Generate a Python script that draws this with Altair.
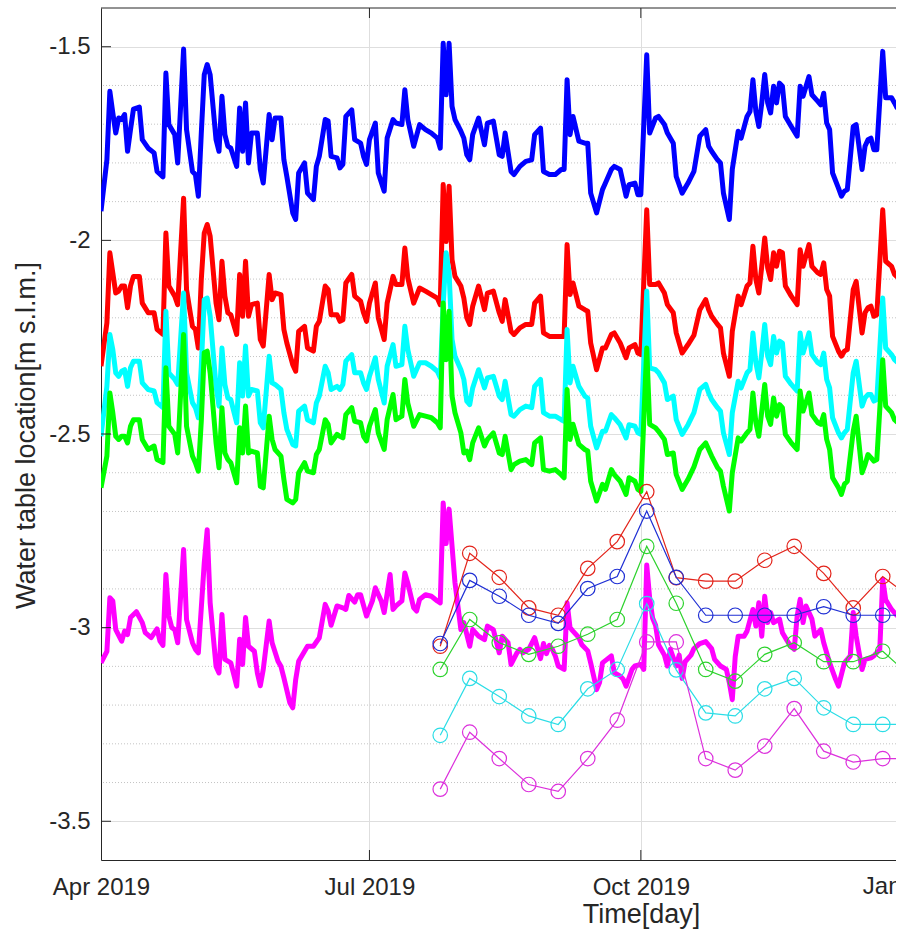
import altair as alt
import pandas as pd

# ---------------- data ----------------
START = pd.Timestamp("2019-04-01")

# day offsets from 1 Apr 2019 shared by the four upper simulated series
upper_days = [
    0, 2, 3, 4, 5, 6, 7, 8, 9, 10,
    11, 13, 14, 16, 18, 19, 21, 22, 23, 25,
    26, 28, 29, 31, 32, 33, 34, 35, 36, 37,
    39, 40, 41, 42, 43, 44, 46, 47, 48, 49,
    50, 51, 53, 54, 55, 57, 58, 59, 61, 62,
    63, 65, 66, 67, 69, 70, 72, 73, 74, 76,
    77, 78, 80, 81, 82, 83, 85, 86, 88, 89,
    90, 91, 93, 94, 96, 97, 99, 100, 102, 103,
    104, 106, 108, 110, 112, 114, 115, 116, 117, 118,
    119, 120, 122, 123, 124, 125, 126, 128, 130, 131,
    133, 135, 136, 137, 139, 140, 142, 144, 146, 147,
    149, 150, 152, 154, 156, 157, 158, 159, 160, 162,
    164, 165, 166, 168, 170, 171, 173, 174, 176, 178,
    179, 181, 182, 183, 185, 186, 188, 189, 191, 192,
    194, 195, 197, 199, 201, 203, 205, 206, 207, 209,
    210, 211, 213, 214, 216, 217, 219, 220, 221, 222,
    223, 224, 225, 226, 227, 228, 229, 230, 231, 232,
    234, 236, 237, 238, 240, 241, 243, 244, 245, 246,
    247, 248, 250, 251, 252, 253, 255, 256, 258, 259,
    260, 261, 262, 263, 265, 266, 268, 269, 270,
]

blue_vals = [
    -1.925, -1.792, -1.615, -1.671, -1.723, -1.684, -1.688, -1.675, -1.770, -1.714,
    -1.661, -1.656, -1.740, -1.762, -1.774, -1.822, -1.836, -1.568, -1.701, -1.727,
    -1.800, -1.506, -1.714, -1.822, -1.830, -1.886, -1.723, -1.572, -1.546, -1.572,
    -1.740, -1.770, -1.628, -1.727, -1.757, -1.762, -1.809, -1.658, -1.770, -1.645,
    -1.800, -1.723, -1.723, -1.817, -1.852, -1.675, -1.740, -1.684, -1.684, -1.792,
    -1.835, -1.929, -1.946, -1.826, -1.800, -1.878, -1.895, -1.809, -1.783, -1.688,
    -1.692, -1.783, -1.787, -1.813, -1.804, -1.680, -1.663, -1.740, -1.749, -1.783,
    -1.804, -1.740, -1.697, -1.826, -1.873, -1.736, -1.688, -1.697, -1.701, -1.611,
    -1.688, -1.757, -1.701, -1.714, -1.723, -1.736, -1.762, -1.491, -1.624, -1.491,
    -1.654, -1.688, -1.718, -1.736, -1.779, -1.792, -1.727, -1.684, -1.753, -1.697,
    -1.692, -1.779, -1.783, -1.723, -1.822, -1.830, -1.809, -1.796, -1.792, -1.727,
    -1.710, -1.822, -1.830, -1.830, -1.817, -1.817, -1.585, -1.727, -1.680, -1.744,
    -1.749, -1.749, -1.878, -1.929, -1.869, -1.852, -1.817, -1.809, -1.817, -1.886,
    -1.856, -1.852, -1.882, -1.882, -1.521, -1.723, -1.684, -1.680, -1.701, -1.723,
    -1.749, -1.835, -1.878, -1.852, -1.822, -1.731, -1.714, -1.757, -1.770, -1.792,
    -1.800, -1.878, -1.946, -1.817, -1.718, -1.736, -1.680, -1.667, -1.585, -1.667,
    -1.706, -1.645, -1.572, -1.645, -1.671, -1.602, -1.645, -1.594, -1.602, -1.680,
    -1.706, -1.731, -1.602, -1.628, -1.577, -1.624, -1.641, -1.650, -1.620, -1.697,
    -1.714, -1.826, -1.865, -1.886, -1.873, -1.869, -1.706, -1.701, -1.817, -1.757,
    -1.740, -1.736, -1.766, -1.766, -1.512, -1.632, -1.632, -1.645, -1.660,
]

red_vals = [
    -2.325, -2.213, -2.032, -2.084, -2.136, -2.131, -2.118, -2.118, -2.174, -2.118,
    -2.093, -2.093, -2.162, -2.187, -2.187, -2.230, -2.243, -1.981, -2.118, -2.144,
    -2.166, -1.891, -2.127, -2.222, -2.230, -2.278, -2.101, -1.981, -1.959, -1.989,
    -2.162, -2.205, -2.054, -2.144, -2.187, -2.192, -2.243, -2.088, -2.196, -2.054,
    -2.196, -2.166, -2.162, -2.256, -2.273, -2.088, -2.153, -2.136, -2.140, -2.230,
    -2.265, -2.321, -2.338, -2.235, -2.222, -2.278, -2.286, -2.222, -2.209, -2.118,
    -2.127, -2.192, -2.192, -2.209, -2.205, -2.110, -2.088, -2.144, -2.157, -2.187,
    -2.209, -2.162, -2.110, -2.200, -2.256, -2.162, -2.093, -2.114, -2.114, -2.020,
    -2.097, -2.162, -2.123, -2.131, -2.140, -2.149, -2.166, -1.856, -2.003, -1.860,
    -2.050, -2.093, -2.118, -2.149, -2.200, -2.217, -2.170, -2.118, -2.179, -2.136,
    -2.131, -2.187, -2.209, -2.153, -2.235, -2.243, -2.226, -2.217, -2.217, -2.162,
    -2.144, -2.239, -2.248, -2.248, -2.248, -2.248, -2.011, -2.140, -2.110, -2.170,
    -2.179, -2.183, -2.265, -2.334, -2.278, -2.278, -2.243, -2.239, -2.265, -2.303,
    -2.278, -2.269, -2.291, -2.295, -1.921, -2.114, -2.114, -2.110, -2.136, -2.166,
    -2.187, -2.239, -2.291, -2.269, -2.245, -2.179, -2.153, -2.179, -2.196, -2.217,
    -2.226, -2.291, -2.351, -2.235, -2.144, -2.166, -2.118, -2.110, -2.015, -2.101,
    -2.136, -2.067, -1.994, -2.071, -2.101, -2.032, -2.067, -2.028, -2.032, -2.118,
    -2.144, -2.166, -2.024, -2.067, -2.011, -2.067, -2.084, -2.088, -2.058, -2.127,
    -2.144, -2.248, -2.286, -2.299, -2.286, -2.282, -2.127, -2.106, -2.239, -2.187,
    -2.174, -2.170, -2.196, -2.192, -1.921, -2.054, -2.067, -2.088, -2.095,
]

cyan_vals = [
    -2.506, -2.377, -2.243, -2.282, -2.342, -2.351, -2.338, -2.334, -2.377, -2.329,
    -2.312, -2.312, -2.368, -2.385, -2.389, -2.419, -2.432, -2.183, -2.342, -2.359,
    -2.372, -2.136, -2.342, -2.419, -2.432, -2.458, -2.325, -2.153, -2.149, -2.196,
    -2.377, -2.428, -2.278, -2.372, -2.407, -2.411, -2.471, -2.316, -2.402, -2.273,
    -2.402, -2.385, -2.389, -2.471, -2.484, -2.299, -2.368, -2.372, -2.385, -2.445,
    -2.488, -2.527, -2.531, -2.441, -2.428, -2.463, -2.471, -2.420, -2.402, -2.325,
    -2.342, -2.385, -2.377, -2.385, -2.372, -2.312, -2.295, -2.342, -2.342, -2.368,
    -2.385, -2.351, -2.303, -2.359, -2.420, -2.325, -2.269, -2.325, -2.321, -2.222,
    -2.282, -2.351, -2.316, -2.316, -2.325, -2.338, -2.355, -2.166, -2.032, -2.084,
    -2.256, -2.299, -2.334, -2.359, -2.415, -2.424, -2.381, -2.334, -2.381, -2.355,
    -2.351, -2.402, -2.411, -2.364, -2.450, -2.454, -2.437, -2.428, -2.432, -2.377,
    -2.359, -2.445, -2.454, -2.454, -2.463, -2.467, -2.230, -2.368, -2.325, -2.377,
    -2.402, -2.407, -2.480, -2.536, -2.493, -2.493, -2.450, -2.458, -2.476, -2.510,
    -2.476, -2.480, -2.497, -2.501, -2.131, -2.329, -2.334, -2.342, -2.368, -2.411,
    -2.402, -2.463, -2.501, -2.476, -2.445, -2.385, -2.372, -2.394, -2.411, -2.432,
    -2.441, -2.497, -2.553, -2.445, -2.364, -2.381, -2.342, -2.334, -2.239, -2.316,
    -2.355, -2.291, -2.217, -2.299, -2.321, -2.248, -2.291, -2.260, -2.265, -2.351,
    -2.372, -2.389, -2.239, -2.291, -2.239, -2.295, -2.316, -2.321, -2.291, -2.359,
    -2.381, -2.458, -2.497, -2.510, -2.497, -2.488, -2.342, -2.312, -2.428, -2.407,
    -2.398, -2.398, -2.415, -2.411, -2.149, -2.278, -2.295, -2.308, -2.315,
]

green_vals = [
    -2.639, -2.557, -2.394, -2.445, -2.506, -2.514, -2.506, -2.506, -2.523, -2.480,
    -2.463, -2.463, -2.514, -2.540, -2.531, -2.566, -2.574, -2.329, -2.480, -2.501,
    -2.549, -2.243, -2.480, -2.557, -2.574, -2.596, -2.467, -2.290, -2.286, -2.342,
    -2.523, -2.587, -2.432, -2.549, -2.566, -2.574, -2.626, -2.484, -2.549, -2.428,
    -2.549, -2.544, -2.549, -2.635, -2.639, -2.454, -2.514, -2.540, -2.557, -2.617,
    -2.669, -2.678, -2.669, -2.600, -2.574, -2.596, -2.600, -2.553, -2.540, -2.463,
    -2.475, -2.523, -2.501, -2.506, -2.510, -2.450, -2.432, -2.467, -2.471, -2.506,
    -2.518, -2.480, -2.437, -2.497, -2.540, -2.463, -2.398, -2.463, -2.454, -2.359,
    -2.420, -2.480, -2.450, -2.454, -2.458, -2.471, -2.484, -2.162, -2.308, -2.183,
    -2.402, -2.445, -2.497, -2.549, -2.544, -2.566, -2.523, -2.484, -2.531, -2.514,
    -2.497, -2.549, -2.553, -2.506, -2.592, -2.579, -2.570, -2.566, -2.579, -2.523,
    -2.510, -2.592, -2.596, -2.592, -2.605, -2.613, -2.385, -2.514, -2.475, -2.527,
    -2.540, -2.544, -2.622, -2.673, -2.630, -2.643, -2.592, -2.605, -2.622, -2.656,
    -2.613, -2.622, -2.643, -2.648, -2.278, -2.475, -2.484, -2.493, -2.514, -2.553,
    -2.549, -2.605, -2.643, -2.617, -2.585, -2.540, -2.523, -2.540, -2.557, -2.587,
    -2.596, -2.635, -2.699, -2.600, -2.510, -2.518, -2.497, -2.488, -2.394, -2.471,
    -2.506, -2.441, -2.372, -2.454, -2.475, -2.407, -2.454, -2.424, -2.432, -2.501,
    -2.523, -2.540, -2.389, -2.441, -2.394, -2.450, -2.471, -2.475, -2.450, -2.514,
    -2.540, -2.613, -2.639, -2.656, -2.630, -2.622, -2.493, -2.454, -2.600, -2.579,
    -2.553, -2.561, -2.570, -2.566, -2.308, -2.428, -2.445, -2.463, -2.470,
]

mag_days = [
    0, 2, 3, 4, 5, 7, 8, 9, 10, 12,
    14, 15, 17, 19, 20, 21, 22, 23, 24, 25,
    26, 28, 29, 31, 32, 33, 35, 36, 37, 39,
    40, 41, 42, 44, 45, 46, 47, 48, 49, 50,
    52, 53, 54, 55, 57, 58, 60, 61, 62, 64,
    65, 66, 67, 69, 70, 72, 74, 76, 77, 78,
    80, 82, 83, 84, 86, 87, 88, 90, 92, 93,
    95, 96, 98, 99, 100, 102, 103, 104, 106, 107,
    108, 110, 112, 114, 115, 116, 117, 118, 120, 122,
    123, 125, 126, 128, 130, 131, 133, 135, 136, 138,
    139, 141, 142, 143, 145, 147, 149, 150, 151, 152,
    153, 154, 155, 157, 158, 159, 160, 162, 163, 165,
    166, 167, 168, 169, 170, 173, 174, 176, 177, 178,
    180, 181, 183, 184, 185, 186, 187, 188, 189, 191,
    192, 193, 195, 196, 197, 198, 200, 201, 203, 205,
    207, 208, 210, 212, 213, 214, 215, 216, 218, 219,
    221, 222, 223, 224, 225, 226, 227, 228, 230, 231,
    233, 235, 236, 237, 238, 239, 241, 242, 244, 245,
    247, 249, 250, 252, 254, 255, 256, 258, 259, 261,
    262, 264, 265, 266, 268, 270,
]

mag_vals = [
    -3.091, -3.061, -2.923, -2.931, -3.005, -3.035, -3.009, -3.018, -2.974, -2.959,
    -2.987, -3.013, -3.026, -3.003, -3.035, -3.046, -2.863, -2.970, -3.000, -3.005,
    -3.039, -2.798, -2.979, -3.039, -3.056, -3.065, -2.833, -2.747, -2.936, -3.100,
    -3.117, -2.966, -3.082, -3.091, -3.121, -3.151, -3.030, -3.095, -2.974, -3.048,
    -3.061, -3.117, -3.150, -3.108, -2.983, -3.039, -3.087, -3.100, -3.130, -3.194,
    -3.207, -3.134, -3.087, -3.061, -3.048, -3.048, -3.026, -2.940, -2.957, -2.994,
    -2.944, -2.949, -2.953, -2.917, -2.934, -2.915, -2.915, -2.970, -2.931, -2.897,
    -2.931, -2.961, -2.863, -2.953, -2.944, -2.931, -2.859, -2.885, -2.949, -2.957,
    -2.927, -2.915, -2.919, -2.931, -2.936, -2.678, -2.783, -2.694, -2.884, -3.005,
    -2.987, -3.048, -3.005, -3.022, -3.031, -2.996, -3.005, -3.065, -3.022, -3.039,
    -3.095, -3.065, -3.056, -3.065, -3.056, -3.026, -3.080, -3.041, -3.067, -3.046,
    -3.056, -3.073, -3.099, -3.108, -2.936, -3.000, -3.009, -3.026, -3.044, -3.060,
    -3.091, -3.125, -3.160, -3.142, -3.091, -3.073, -3.116, -3.125, -3.133, -3.151,
    -3.108, -3.099, -3.095, -3.108, -2.838, -2.924, -2.976, -2.994, -3.044, -3.071,
    -3.099, -3.056, -3.099, -3.071, -3.131, -3.088, -3.071, -3.054, -3.041, -3.036,
    -3.054, -3.082, -3.099, -3.108, -3.142, -3.186, -3.075, -3.022, -3.022, -3.009,
    -2.953, -2.996, -2.936, -3.022, -2.919, -2.987, -2.961, -2.987, -2.978, -3.013,
    -3.039, -3.056, -2.970, -2.927, -2.987, -2.944, -2.978, -3.022, -3.005, -3.039,
    -3.091, -3.133, -3.151, -3.091, -3.073, -2.961, -3.022, -3.108, -3.082, -3.078,
    -3.073, -3.056, -2.876, -2.928, -2.953, -2.970,
]

# observed (10-day) series, day offsets from 1 Apr 2019
obs_days = [115, 125, 135, 145, 155, 165, 175, 185, 195, 205, 215, 225, 235, 245, 255, 265, 275]
obs_red = [-3.048, -2.808, -2.870, -2.949, -2.968, -2.847, -2.778, -2.649, -2.871,
           -2.880, -2.880, -2.826, -2.790, -2.860, -2.949, -2.868, -2.925]
obs_blue = [-3.041, -2.878, -2.919, -2.968, -2.989, -2.899, -2.868, -2.699, -2.870,
            -2.968, -2.968, -2.968, -2.968, -2.946, -2.968, -2.968, -2.968]
obs_green = [-3.108, -2.979, -3.039, -3.069, -3.048, -3.017, -2.979, -2.790, -2.937,
             -3.108, -3.138, -3.069, -3.039, -3.088, -3.088, -3.061, -3.130]
obs_cyan = [-3.278, -3.131, -3.178, -3.228, -3.250, -3.158, -3.108, -2.938, -3.109,
            -3.220, -3.228, -3.158, -3.131, -3.207, -3.250, -3.250, -3.250]
obs_mag = [-3.417, -3.270, -3.338, -3.405, -3.423, -3.338, -3.239, -3.037, -3.037,
           -3.338, -3.368, -3.306, -3.209, -3.319, -3.347, -3.338, -3.338]

y_major = [-3.5, -3.0, -2.5, -2.0, -1.5]
y_minor = [-3.4, -3.3, -3.2, -3.1, -2.9, -2.8, -2.7, -2.6, -2.4, -2.3, -2.2, -2.1,
           -1.9, -1.8, -1.7, -1.6]
x_tick_days = [0, 91, 183]          # Apr, Jul, Oct 2019
x_cut_label_day = 275               # 1 Jan 2020 (label cut by the right edge)
x_cut_label = "Jan 2020"

# ---------------- layout / style ----------------
W, H = 795, 852
FONT = "Liberation Sans"
INK = "#262626"
FS = 24      # tick labels
TFS = 27     # axis titles


def iso(d):
    return (START + pd.Timedelta(days=d)).strftime("%Y-%m-%dT%H:%M:%S")


def frame(days, vals):
    return pd.DataFrame([{"date": iso(d), "value": v} for d, v in zip(days, vals)])


x_scale = alt.Scale(domain=[alt.DateTime(year=2019, month=4, date=1),
                            alt.DateTime(year=2019, month=12, date=26, hours=12)])
y_scale = alt.Scale(domain=[-3.6, -1.4], nice=False, zero=False)

x_axis = alt.Axis(
    values=[alt.DateTime(year=2019, month=4, date=1),
            alt.DateTime(year=2019, month=7, date=1),
            alt.DateTime(year=2019, month=10, date=1)],
    format="%b %Y", labelFont=FONT, labelFontSize=FS, labelColor=INK,
    labelPadding=15, labelFlush=False, labelOverlap=False,
    ticks=False, tickSize=0, domainColor=INK, domainWidth=1,
    grid=True, gridColor="#dedede", gridWidth=1,
    title="Time[day]", titleFont=FONT, titleFontSize=TFS, titleFontWeight="normal",
    titleColor=INK, titleX=540, titleY=62, titleAlign="center", titleBaseline="alphabetic",
)
y_axis = alt.Axis(
    values=y_major, labelExpr="datum.value + ''",
    labelFont=FONT, labelFontSize=FS, labelColor=INK, labelPadding=11,
    labelFlush=False, labelOverlap=False,
    ticks=False, tickSize=0, domainColor=INK, domainWidth=1,
    grid=True, gridColor="#dedede", gridWidth=1,
    title="Water table location[m s.l.m.]", titleFont=FONT, titleFontSize=TFS,
    titleFontWeight="normal", titleColor=INK, titleX=-67, titleY=H / 2 + 1,
    titleAlign="center", titleBaseline="alphabetic", titleAngle=270,
)

X = alt.X("date:T", scale=x_scale, axis=x_axis)
Y = alt.Y("value:Q", scale=y_scale, axis=y_axis)

layers = []

# minor dotted grid
layers.append(
    alt.Chart(pd.DataFrame({"value": y_minor}))
    .mark_rule(color="#c4c4c4", strokeWidth=1, strokeDash=[1, 2])
    .encode(y=Y)
)

# simulated thick lines
for vals, col in [(blue_vals, "#0000ff"), (red_vals, "#ff0000"),
                  (cyan_vals, "#00ffff"), (green_vals, "#00ff00")]:
    layers.append(
        alt.Chart(frame(upper_days, vals))
        .mark_line(color=col, strokeWidth=5, strokeJoin="round", clip=True)
        .encode(x=X, y=Y)
    )
layers.append(
    alt.Chart(frame(mag_days, mag_vals))
    .mark_line(color="#ff00ff", strokeWidth=5, strokeJoin="round", clip=True)
    .encode(x=X, y=Y)
)

# observed thin lines with open circles
for vals, col in [(obs_red, "#e3241b"), (obs_blue, "#1f2fd4"), (obs_green, "#2dd22d"),
                  (obs_cyan, "#2bdde6"), (obs_mag, "#dc30dc")]:
    df = frame(obs_days, vals)
    layers.append(
        alt.Chart(df).mark_line(color=col, strokeWidth=1.2, clip=True).encode(x=X, y=Y)
    )
    layers.append(
        alt.Chart(df).mark_point(shape="circle", filled=False, color=col, size=210,
                                 strokeWidth=1.2, opacity=1, clip=True)
        .encode(x=X, y=Y)
    )

# inward ticks (MATLAB style) and the top frame line
layers.append(
    alt.Chart(pd.DataFrame({"value": y_major}))
    .mark_rule(color=INK, strokeWidth=1)
    .encode(y=Y, x=alt.value(0), x2=alt.value(10))
)
xt = pd.DataFrame({"date": [iso(d) for d in x_tick_days[1:]]})
layers.append(
    alt.Chart(xt).mark_rule(color=INK, strokeWidth=1)
    .encode(x=X, y=alt.value(H), y2=alt.value(H - 10))
)
layers.append(
    alt.Chart(xt).mark_rule(color=INK, strokeWidth=1)
    .encode(x=X, y=alt.value(0), y2=alt.value(10))
)
layers.append(
    alt.Chart(pd.DataFrame({"k": [0]})).mark_rule(color=INK, strokeWidth=1)
    .encode(x=alt.value(0), x2=alt.value(W), y=alt.value(0))
)

# the next tick label, cut by the right edge of the picture
layers.append(
    alt.Chart(pd.DataFrame({"date": [iso(x_cut_label_day)], "label": [x_cut_label]}))
    .mark_text(font=FONT, fontSize=FS, color=INK, align="center", baseline="top")
    .encode(x=X, y=alt.value(H + 15), text="label:N")
)

chart = (
    alt.layer(*layers)
    .properties(
        width=W, height=H,
        autosize=alt.AutoSizeParams(type="none"),
        padding={"left": 101, "top": 8, "right": 0, "bottom": 74},
        background="white",
    )
    .configure_view(stroke=None)
)

chart.save("out.html", embed_options={"renderer": "svg", "actions": False})
